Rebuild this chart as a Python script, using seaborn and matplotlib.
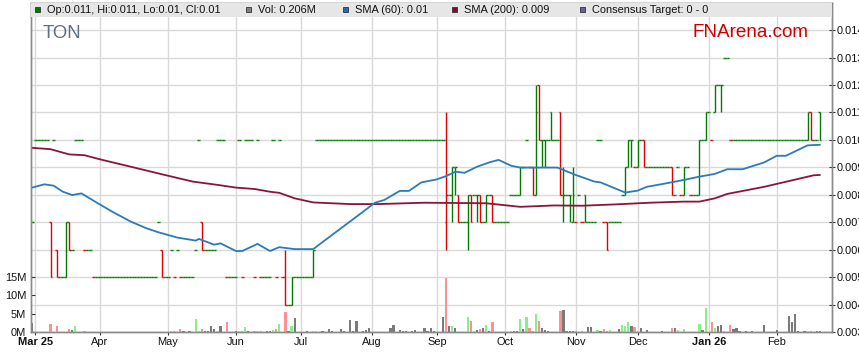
import numpy as np
import pandas as pd
import matplotlib
matplotlib.use("Agg")
import matplotlib.pyplot as plt
import seaborn as sns
from matplotlib.patches import Rectangle
from matplotlib.transforms import Affine2D

# ---- data --------------------------------------------------------------------
start_date = "2025-02-28"  # first (partly visible) trading day

# daily OHLC bars, run-length encoded: (days, open, high, low, close) in 0.001 AUD
price_runs = [
    (1, 7, 7, 7, 7), (5, 10, 10, 10, 10), (1, 7, 7, 5, 5), (1, 10, 10, 10, 10),
    (1, 6, 6, 5, 5), (2, 5, 5, 5, 5), (1, 5, 7, 5, 7), (1, 7, 7, 6, 6),
    (1, 6, 6, 6, 6), (3, 10, 10, 10, 10), (3, 6, 6, 6, 6), (21, 5, 5, 5, 5),
    (1, 7, 7, 7, 7), (1, 6, 6, 5, 5), (2, 5, 5, 5, 5), (1, 6, 6, 6, 6),
    (1, 5, 5, 5, 5), (1, 6, 6, 6, 6), (5, 5, 5, 5, 5), (1, 6, 6, 6, 6),
    (1, 10, 10, 10, 10), (1, 7, 7, 6, 6), (4, 6, 6, 6, 6), (3, 10, 10, 10, 10),
    (4, 5, 5, 5, 5), (1, 10, 10, 10, 10), (1, 5, 5, 5, 5), (3, 10, 10, 10, 10),
    (1, 5, 5, 5, 5), (1, 10, 10, 10, 10), (4, 5, 5, 5, 5), (1, 10, 10, 10, 10),
    (1, 5, 5, 5, 5), (1, 10, 10, 10, 10), (1, 5, 5, 5, 5), (1, 5, 6, 4, 4),
    (1, 4, 4, 4, 4), (1, 4, 5, 4, 5), (6, 5, 5, 5, 5), (1, 5, 6, 5, 6),
    (42, 10, 10, 10, 10), (1, 7, 11, 6, 8), (1, 8, 8, 8, 8), (1, 8, 9, 7, 9),
    (1, 9, 9, 8, 9), (1, 8, 8, 7, 7), (2, 7, 7, 7, 7), (1, 7, 8, 6, 8),
    (1, 8, 8, 7, 7), (1, 8, 8, 8, 8), (1, 8, 8, 7, 8), (1, 8, 8, 7, 7),
    (1, 7, 7, 7, 7), (1, 7, 8, 7, 8), (1, 8, 8, 8, 8), (1, 8, 8, 7, 7),
    (5, 7, 7, 7, 7), (3, 8, 8, 8, 8), (1, 8, 9, 8, 9), (1, 9, 9, 9, 9),
    (1, 10, 10, 10, 10), (1, 9, 9, 9, 9), (1, 9, 9, 8, 8), (1, 8, 12, 8, 11),
    (1, 12, 12, 10, 10), (1, 10, 10, 9, 10), (1, 10, 10, 9, 10), (1, 10, 10, 10, 10),
    (1, 11, 11, 10, 10), (2, 10, 10, 10, 10), (1, 11, 11, 8, 8), (1, 8, 9, 7, 8),
    (1, 8, 8, 8, 8), (1, 8, 8, 7, 8), (1, 7, 9, 7, 8), (1, 7, 7, 7, 7),
    (1, 8, 8, 8, 8), (1, 7, 7, 7, 7), (1, 8, 8, 7, 7), (3, 7, 7, 7, 7),
    (2, 10, 10, 10, 10), (1, 7, 7, 7, 7), (1, 7, 7, 6, 6), (4, 7, 7, 7, 7),
    (1, 8, 8, 8, 8), (1, 8, 9, 8, 9), (1, 9, 10, 9, 10), (1, 10, 10, 9, 10),
    (1, 9, 9, 9, 9), (1, 9, 10, 9, 10), (1, 10, 10, 10, 10), (1, 10, 10, 9, 9),
    (8, 9, 9, 9, 9), (1, 9, 9, 8, 8), (1, 8, 8, 8, 8), (1, 9, 9, 9, 9),
    (1, 8, 8, 8, 8), (1, 8, 9, 8, 9), (1, 9, 9, 9, 9), (1, 8, 8, 8, 8),
    (2, 8, 8, 8, 8), (1, 8, 10, 8, 10), (1, 10, 10, 10, 10), (1, 10, 11, 10, 11),
    (1, 11, 11, 11, 11), (1, 10, 10, 10, 10), (1, 11, 12, 11, 12), (1, 12, 12, 12, 12),
    (1, 12, 12, 11, 12), (2, 13, 13, 13, 13), (25, 10, 10, 10, 10), (1, 10, 11, 10, 11),
    (1, 11, 11, 10, 10), (2, 10, 10, 10, 10), (1, 11, 11, 10, 10),
]

# daily volume in millions of shares, one list per calendar month
vol_feb25 = [2.5]
vol_mar = [0.05, 0.05, 0.05, 0.05, 0.05, 2.2, 0.1, 1.5, 0.05, 0.05, 0.1, 0.9, 0.6,
           1.5, 0.05, 0.05, 0.3, 0.05, 0.05, 0.05, 0.05]
vol_apr = [0.05, 0.05, 0.05, 0.05, 0.05, 0.05, 0.05, 0.05, 0.05, 0.05, 0.05, 0.05,
           0.05, 0.05, 0.05, 0.05, 0.05, 0.05, 0.05, 0.1, 0.1, 0.05]
vol_may = [0.05, 0.3, 0.3, 0.1, 0.9, 0.3, 0.05, 0.3, 0.05, 3.5, 0.3, 0.9, 0.3, 0.3,
           1.5, 0.8, 0.3, 1.6, 0.05, 2.8, 0.05, 0.05]
vol_jun = [0.2, 0.3, 0.3, 1.4, 0.3, 0.05, 0.3, 0.3, 0.3, 0.05, 0.3, 0.3, 0.6, 0.8,
           2.2, 0.05, 5.5, 0.2, 1.5, 3.9, 0.05]
vol_jul = [0.05, 0.05, 0.4, 0.05, 0.3, 0.3, 0.05, 0.3, 0.05, 0.8, 0.3, 0.05, 0.05,
           0.8, 0.3, 0.05, 3.3, 0.3, 3.1, 0.05, 0.3, 0.5, 1.1]
vol_aug = [0.05, 0.05, 0.05, 0.05, 0.05, 0.05, 1.1, 1.8, 0.05, 0.5, 0.3, 0.3, 0.05,
           0.4, 0.6, 0.05, 0.05, 1.0, 0.3, 1.1, 0.3]
vol_sep = [0.05, 0.05, 4.2, 14.6, 1.5, 1.7, 1.2, 0.1, 0.1, 0.1, 4.2, 3.1, 0.3, 0.5,
           0.9, 1.2, 1.8, 0.3, 2.6, 0.05, 0.05, 0.05]
vol_oct = [0.05, 0.05, 0.3, 0.3, 0.3, 3.5, 0.9, 4.2, 1.2, 0.3, 4.9, 3.1, 1.1, 0.5,
           0.3, 0.05, 0.05, 0.05, 5.8, 6.0, 0.3, 0.4, 0.4]
vol_nov = [0.3, 0.05, 0.3, 0.05, 1.4, 1.4, 0.05, 0.5, 0.3, 0.9, 0.3, 0.6, 0.05, 0.05,
           0.8, 1.9, 1.5, 2.8, 1.6, 1.3]
vol_dec = [0.4, 1.2, 0.05, 0.6, 0.05, 0.05, 0.05, 0.05, 0.3, 0.05, 0.05, 1.0, 1.1,
           0.5, 0.05, 0.9, 0.05, 0.05, 0.05, 0.05, 2.2, 0.6, 6.6]
vol_jan = [0.05, 2.8, 1.0, 1.5, 1.8, 0.4, 0.05, 1.8, 0.8, 1.0, 0.3, 0.05, 0.4, 0.05,
           0.4, 0.05, 0.05, 0.05, 1.9, 0.05, 0.05, 0.05]
vol_feb = [0.6, 0.05, 0.05, 0.05, 4.4, 2.8, 4.9, 0.4, 0.05, 0.3, 0.3, 0.3, 0.05, 0.3,
           0.206]

# moving averages sampled along the curves (bar number, price in 0.001)
sma60_bar = [0, 4, 7, 10, 13, 16, 21, 26, 32, 37, 41, 47, 53, 54, 59, 61, 66, 68, 73,
             77, 80, 85, 91, 100, 105, 111, 114, 119, 122, 126, 131, 134, 137, 140,
             144, 148, 151, 155, 158, 162, 170, 176, 182, 184, 192, 196, 199, 204,
             211, 216, 221, 225, 230, 237, 241, 244, 251, 255]
sma60_val = [8.26, 8.38, 8.33, 8.11, 7.99, 8.05, 7.71, 7.38, 7.02, 6.78, 6.63, 6.44,
             6.33, 6.39, 6.18, 6.23, 5.95, 5.95, 6.21, 5.95, 6.09, 6.02, 6.02, 6.78,
             7.20, 7.71, 7.81, 8.14, 8.14, 8.45, 8.56, 8.68, 8.84, 8.80, 9.02, 9.18,
             9.27, 9.06, 8.99, 8.99, 8.99, 8.72, 8.48, 8.45, 8.08, 8.15, 8.29, 8.39,
             8.54, 8.66, 8.76, 8.93, 8.93, 9.18, 9.42, 9.42, 9.80, 9.82]
sma200_bar = [0, 6, 12, 17, 22, 32, 43, 52, 60, 66, 72, 77, 80, 83, 85, 91, 103, 112,
              127, 147, 158, 169, 178, 189, 200, 211, 216, 221, 225, 237, 245, 253, 255]
sma200_val = [9.71, 9.66, 9.47, 9.44, 9.29, 9.02, 8.72, 8.48, 8.36, 8.26, 8.21, 8.11,
              8.07, 7.95, 7.87, 7.72, 7.66, 7.66, 7.71, 7.69, 7.56, 7.61, 7.60, 7.65,
              7.71, 7.75, 7.75, 7.87, 8.03, 8.29, 8.50, 8.71, 8.72]

legend_labels = ["Op:0.011, Hi:0.011, Lo:0.01, Cl:0.01", "Vol: 0.206M",
                 "SMA (60): 0.01", "SMA (200): 0.009", "Consensus Target: 0 - 0"]
price_ticks = [0.003, 0.004, 0.005, 0.006, 0.007, 0.008, 0.009, 0.010, 0.011, 0.012,
               0.013, 0.014]
vol_ticks = [0, 5, 10, 15]

# ---- build the daily table ---------------------------------------------------
volume_m = (vol_feb25 + vol_mar + vol_apr + vol_may + vol_jun + vol_jul + vol_aug
            + vol_sep + vol_oct + vol_nov + vol_dec + vol_jan + vol_feb)
rows = []
for n, o, h, l, c in price_runs:
    rows += [(o / 1000, h / 1000, l / 1000, c / 1000)] * n
assert len(rows) == len(volume_m)

df = pd.DataFrame(rows, columns=["open", "high", "low", "close"])
df["date"] = pd.bdate_range(start_date, periods=len(df))
df["bar"] = np.arange(len(df))
df["volume"] = volume_m
prev_close = df["close"].shift().fillna(df["open"])
df["move"] = np.sign(df["close"] - prev_close).map({1.0: "up", -1.0: "down", 0.0: "flat"})

GREEN, RED = "#007a00", "#e00000"
vol_palette = {"up": "#88ee88", "down": "#ff9090", "flat": "#7a7a7a"}
SMA60_C, SMA200_C = "#2b7bba", "#8a1538"
GRID = "#d9d9d9"
SPINE = "#8a8a8a"

# ---- figure ------------------------------------------------------------------
sns.set_theme(style="white")
plt.rcParams["font.family"] = ["Liberation Sans", "DejaVu Sans"]

W, H = 859, 363
fig = plt.figure(figsize=(W / 100, H / 100), dpi=100)
px = Affine2D().scale(1 / W, -1 / H).translate(0, 1) + fig.transFigure

ax = fig.add_axes([31 / W, (H - 332) / H, (832 - 31) / W, (332 - 3) / H])
axv = ax.twinx()

# price bars (vertical high-low, left tick open, right tick close)
bar_col = np.where(df["move"] == "down", RED, GREEN)
ax.vlines(df["bar"], df["low"], df["high"], colors=bar_col, lw=1.0, zorder=3)
ax.hlines(df["open"], df["bar"] - 0.5, df["bar"], colors=bar_col, lw=1.0, zorder=3)
ax.hlines(df["close"], df["bar"], df["bar"] + 0.5, colors=bar_col, lw=1.0, zorder=3)

sns.lineplot(x=sma200_bar, y=np.array(sma200_val) / 1000, ax=ax, color=SMA200_C, lw=1.3, zorder=4)
sns.lineplot(x=sma60_bar, y=np.array(sma60_val) / 1000, ax=ax, color=SMA60_C, lw=1.3, zorder=4)

# volume bars
axv.bar(df["bar"], df["volume"], width=0.72, color=df["move"].map(vol_palette),
        linewidth=0, zorder=2)

# axes ranges
x_lo, x_hi = -0.33, 258.9
ax.set_xlim(x_lo, x_hi)
ax.set_ylim(0.003, 0.003 + 329 / 27450)
axv.set_ylim(0, 329 / 3.667)

# month ticks
firsts = df[df["date"] >= "2025-03-01"].groupby(df["date"].dt.to_period("M"))["bar"].first()
tick_lab = []
for k, per in enumerate(firsts.index):
    if k == 0 or per.month == 1:
        tick_lab.append(per.strftime("%b %y"))
    else:
        tick_lab.append(per.strftime("%b"))

ax.set_xticks(firsts.values)
ax.set_xticklabels(tick_lab, fontsize=7.9, color="#111111")
for t in ax.get_xticklabels():
    if " " in t.get_text():
        t.set_fontweight("bold")
ax.tick_params(axis="x", bottom=True, labelbottom=True, length=2.5, width=0.8,
               color="#333333", pad=1.2, direction="out")

ax.set_yticks(price_ticks)
ax.set_yticklabels([f"{v:.3f}" for v in price_ticks])
ax.yaxis.tick_right()
ax.tick_params(axis="y", labelsize=7.9, labelcolor="#111111", length=4, width=0.8,
               color="#333333", direction="inout", pad=1.5)

axv.set_yticks(vol_ticks)
axv.set_yticklabels([f"{v}M" for v in vol_ticks])
axv.yaxis.tick_left()
axv.tick_params(axis="y", labelsize=7.9, labelcolor="#111111", length=3, width=0.8,
                color="#333333", direction="in", pad=3.5)

ax.set_xlabel("")
ax.set_ylabel("")
axv.set_ylabel("")

ax.grid(True, color=GRID, lw=1.0)
ax.set_axisbelow(True)
for a in (ax, axv):
    for s in a.spines.values():
        s.set_color(SPINE)
        s.set_linewidth(1.0)
ax.patch.set_facecolor("white")
axv.patch.set_visible(False)

# legend band on top of the plot area
axv.add_patch(Rectangle((0, 1 - 13.5 / 329), 1, 13.5 / 329, transform=axv.transAxes,
                        facecolor="#e6e6e6", edgecolor="none", zorder=10, clip_on=False))
legend_colors = [GREEN, "#808080", "#1f6fb2", "#7a0f2c", "#646496"]
square_x = [35, 246, 343, 452, 580]
for lab, col, sx in zip(legend_labels, legend_colors, square_x):
    fig.patches.append(Rectangle((sx, 11.7), 5, -5, transform=px, facecolor=col,
                                 edgecolor="#333333", lw=0.6, zorder=20))
    fig.text(sx + 12, 13.3, lab, transform=px, fontsize=7.9, color="#111111",
             va="baseline", ha="left", zorder=21)

fig.text(42.5, 38.5, "TON", transform=px, fontsize=13.3, color="#5e6e86",
         va="baseline", ha="left")
fig.text(808.5, 36.8, "FNArena.com", transform=px, fontsize=13.6, color="#cc0000",
         va="baseline", ha="right")

fig.savefig("out.png", dpi=100)
